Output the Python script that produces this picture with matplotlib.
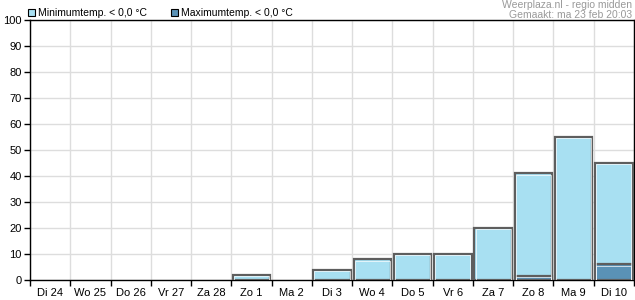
import numpy as np
import matplotlib.pyplot as plt
from matplotlib.patches import Rectangle

plt.rcParams['font.family'] = ['Liberation Sans', 'DejaVu Sans']

days = ['Di 24', 'Wo 25', 'Do 26', 'Vr 27', 'Za 28', 'Zo 1', 'Ma 2', 'Di 3',
        'Wo 4', 'Do 5', 'Vr 6', 'Za 7', 'Zo 8', 'Ma 9', 'Di 10']
min_temp = [0, 0, 0, 0, 0, 2, 0, 4, 8, 10, 10, 20, 41, 55, 45]
max_temp = [0, 0, 0, 0, 0, 0, 0, 0, 0, 0, 0, 0, 1.5, 0, 6]

c_min = '#a8e0f2'
c_max = '#5a92b6'
edge = '#5e5e5e'

fig = plt.figure(figsize=(6.35, 3.0), dpi=100)
ax = fig.add_axes([30/635, 20/300, 604/635, 260/300])

x = np.arange(len(days))
for vals, col in ((min_temp, c_min), (max_temp, c_max)):
    v = np.array(vals, dtype=float)
    m = v > 0
    ax.bar(x[m], v[m], width=0.93, color=col, edgecolor=edge, linewidth=1.6, zorder=3)
    ax.bar(x[m], v[m] - 0.5, width=0.87, bottom=0.0, color='none',
           edgecolor='white', linewidth=0.6, alpha=0.8, zorder=4)

ax.set_xlim(-0.5, len(days) - 0.5)
ax.set_ylim(0, 100)
ax.set_yticks(range(0, 101, 10))
ax.set_xticks(np.arange(-0.5, len(days), 1.0))
ax.set_xticklabels([])
ax.set_xticks(x, minor=True)
ax.set_xticklabels(days, minor=True)
ax.tick_params(axis='x', which='minor', length=0, pad=6, labelsize=8)
ax.tick_params(axis='x', which='major', direction='out', length=4, width=1)
ax.tick_params(axis='y', direction='out', length=4, width=1, labelsize=8, pad=2)
ax.grid(True, which='major', color='#dddddd', linewidth=1, zorder=0)
ax.set_axisbelow(True)
for s in ax.spines.values():
    s.set_color('black')
    s.set_linewidth(1)

# legend
fig.patches.append(Rectangle((28/635, 1 - 16/300), 7/635, 7/300, transform=fig.transFigure,
                             facecolor=c_min, edgecolor='black', linewidth=0.8))
fig.text(38/635, 1 - 12.5/300, 'Minimumtemp. < 0,0 °C', fontsize=7.5, va='center')
fig.patches.append(Rectangle((171/635, 1 - 16/300), 7/635, 7/300, transform=fig.transFigure,
                             facecolor=c_max, edgecolor='black', linewidth=0.8))
fig.text(181/635, 1 - 12.5/300, 'Maximumtemp. < 0,0 °C', fontsize=7.5, va='center')

fig.text(632/635, 1 - 5.5/300, 'Weerplaza.nl - regio midden', fontsize=7.5,
         color='#999999', ha='right', va='center')
fig.text(632/635, 1 - 15/300, 'Gemaakt: ma 23 feb 20:03', fontsize=7.5,
         color='#999999', ha='right', va='center')

fig.savefig('out.png', dpi=100)
